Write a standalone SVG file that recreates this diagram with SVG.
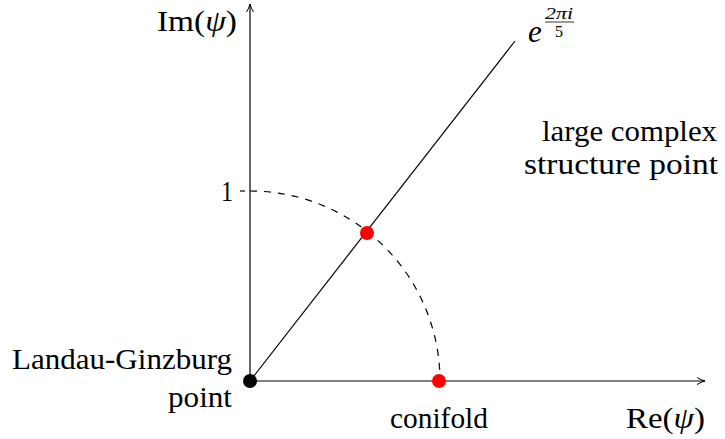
<svg xmlns="http://www.w3.org/2000/svg" width="725" height="439" viewBox="0 0 725 439">
<style>
text{font-family:"Liberation Serif","DejaVu Serif",serif;fill:#000}
.t{font-size:29px}
.it{font-style:italic}
.e{font-size:31px;font-style:italic}
.sup{font-size:16px}
.ax{stroke:#000;stroke-width:1.2;fill:none}
</style>
<defs>
<marker id="arr" viewBox="0 0 10 10" refX="9" refY="5" markerWidth="10" markerHeight="10" markerUnits="userSpaceOnUse" orient="auto">
<path d="M1 1.5 Q5 4 9 5 Q5 6 1 8.5" fill="none" stroke="#000" stroke-width="1"/>
</marker>
</defs>
<g id="connectors">
<line class="ax" x1="250" y1="381" x2="705" y2="381" marker-end="url(#arr)"/>
<line class="ax" x1="250" y1="381" x2="250" y2="4" marker-end="url(#arr)"/>
<line class="ax" x1="250" y1="381" x2="515" y2="41"/>
<line class="ax" x1="240" y1="191" x2="245" y2="191"/>
<path class="ax" d="M250 191 A190 190 0 0 1 440 381" stroke-dasharray="7,7"/>
</g>
<g id="im-label"><text class="t" x="157" y="31" textLength="80" lengthAdjust="spacingAndGlyphs">Im(<tspan class="it">ψ</tspan>)</text></g>
<g id="re-label"><text class="t" x="626" y="428" textLength="79" lengthAdjust="spacingAndGlyphs">Re(<tspan class="it">ψ</tspan>)</text></g>
<g id="one-label"><text class="t" x="221" y="201" textLength="12" lengthAdjust="spacingAndGlyphs">1</text></g>
<g id="exp-label">
<text class="e" x="528" y="42">e</text>
<text class="sup it" x="545" y="19" textLength="28" lengthAdjust="spacingAndGlyphs">2πi</text>
<line x1="545" y1="22" x2="574" y2="22" stroke="#000" stroke-width="0.8"/>
<text class="sup" x="555" y="37">5</text>
</g>
<g id="lcs-label">
<text class="t" x="542" y="141" textLength="175" lengthAdjust="spacingAndGlyphs">large complex</text>
<text class="t" x="524" y="174" textLength="194" lengthAdjust="spacingAndGlyphs">structure point</text>
</g>
<g id="lg-point">
<circle cx="250" cy="381" r="7" fill="#000"/>
<text class="t" x="12" y="369" textLength="220" lengthAdjust="spacingAndGlyphs">Landau-Ginzburg</text>
<text class="t" x="168" y="407" textLength="64" lengthAdjust="spacingAndGlyphs">point</text>
</g>
<g id="conifold-point">
<circle cx="439" cy="381" r="7" fill="#ff0000"/>
<text class="t" x="390" y="428" textLength="98" lengthAdjust="spacingAndGlyphs">conifold</text>
</g>
<g id="intersection-point">
<circle cx="367" cy="233" r="7" fill="#ff0000"/>
</g>
</svg>
